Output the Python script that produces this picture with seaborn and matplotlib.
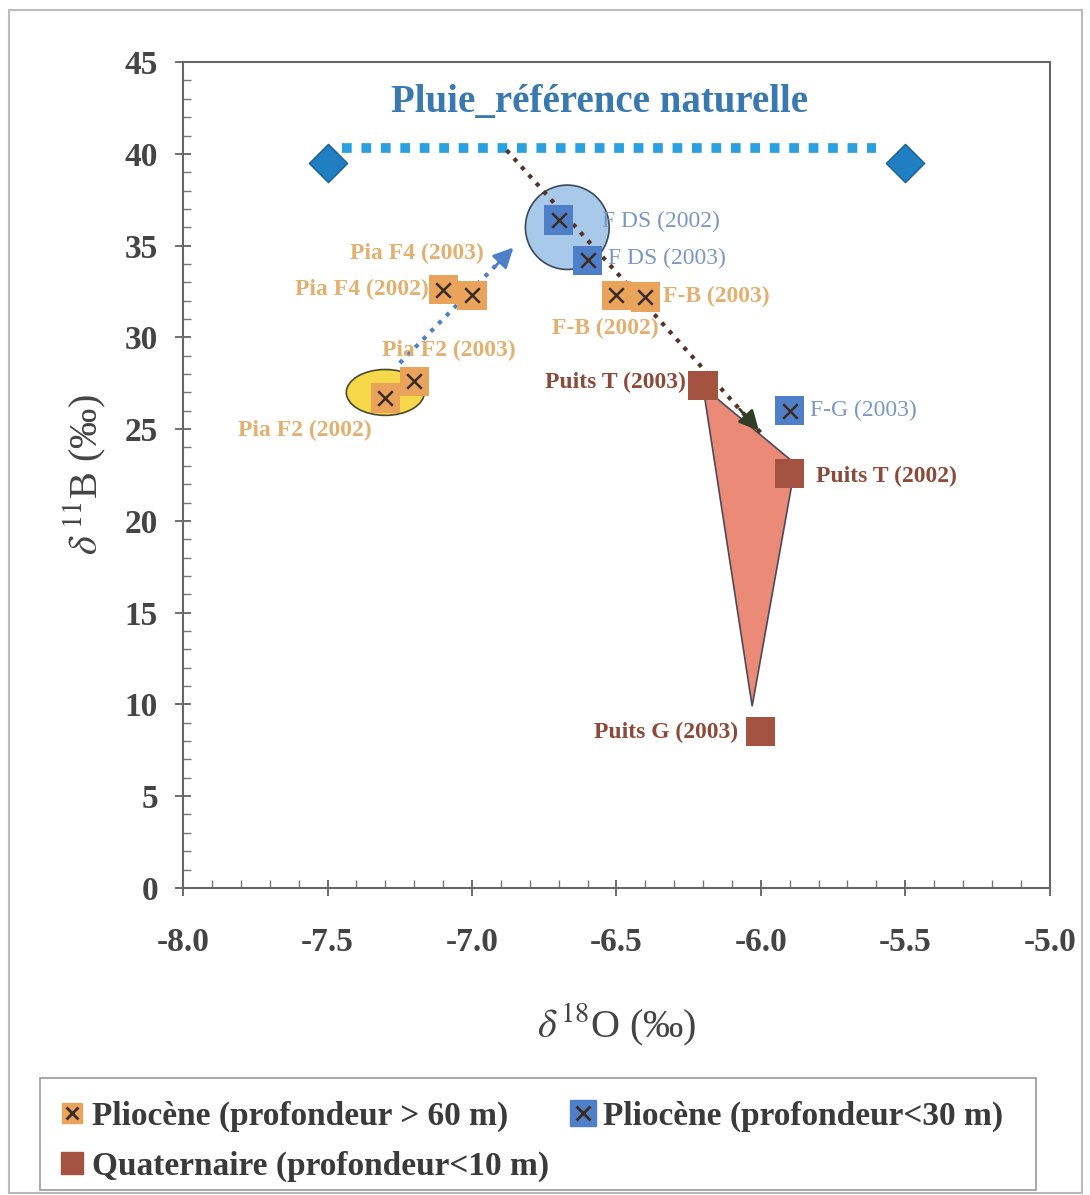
import numpy as np
import pandas as pd
import seaborn as sns
import matplotlib.pyplot as plt
from matplotlib.patches import Ellipse, Polygon, Rectangle
from matplotlib.lines import Line2D
from matplotlib.ticker import MultipleLocator

# --- data ---
names = ["Pia F4 (2002)", "Pia F4 (2003)", "Pia F2 (2003)", "Pia F2 (2002)",
         "F-B (2002)", "F-B (2003)",
         "F DS (2002)", "F DS (2003)", "F-G (2003)",
         "Puits T (2003)", "Puits T (2002)", "Puits G (2003)"]
d18O = [-7.1, -7.0, -7.2, -7.3, -6.5, -6.4, -6.7, -6.6, -5.9, -6.2, -5.9, -6.0]
d11B = [32.6, 32.3, 27.6, 26.7, 32.3, 32.2, 36.4, 34.2, 26.0, 27.4, 22.6, 8.5]
groups = ["deep"] * 6 + ["shallow"] * 3 + ["quat"] * 3

rain_x = [-7.5, -5.5]
rain_y = [39.5, 39.5]
rain_line_x = [-7.45, -5.6]
rain_line_y = [40.3, 40.3]

zone_quat = [(-6.2, 27.3), (-5.88, 23.1), (-6.03, 9.9)]
arrow_down = [(-6.88, 40.2), (-6.0, 24.8)]
arrow_up = [(-7.25, 28.6), (-6.85, 35.0)]

df = pd.DataFrame({"name": names, "x": d18O, "y": d11B, "group": groups})

palette = {"deep": "#e9a35a", "shallow": "#4f7fc9", "quat": "#a3533f"}
label_col = {"deep": "#e2b070", "shallow": "#7c97c4", "quat": "#8c4a3a"}

plt.rcParams["font.family"] = ["Liberation Serif", "DejaVu Serif"]
plt.rcParams["mathtext.fontset"] = "stix"

fig = plt.figure(figsize=(10.9, 11.95), dpi=100)
ax = fig.add_axes([0.168, 0.257, 0.795, 0.691])

# zones
ax.add_patch(Polygon(zone_quat, closed=True, facecolor="#ec8a78", edgecolor="#4a4a5a", lw=1.2, zorder=1))
ax.add_patch(Ellipse((-7.3, 27.0), 0.27, 2.5, facecolor="#f6d84a", edgecolor="#4a4a30", lw=1.2, zorder=1))
ax.add_patch(Ellipse((-6.67, 36.0), 0.29, 4.6, facecolor="#a9c9ea", edgecolor="#3a4a5a", lw=1.2, zorder=1))

# rain reference
ax.plot(rain_line_x, rain_line_y, ls=(0, (1, 1)), lw=7, color="#2aa0e0", zorder=2)
sns.scatterplot(x=rain_x, y=rain_y, marker="D", s=380, color="#1f7fc2", edgecolor="#1a5f90",
                linewidth=1, ax=ax, zorder=3, legend=False)

# dotted arrows
ax.plot(*zip(*arrow_down), ls=":", lw=3, color="#553328", zorder=2)
ax.annotate("", xy=arrow_down[1], xytext=(-6.08, 26.2),
            arrowprops=dict(arrowstyle="-|>,head_length=1.2,head_width=0.6", color="#2f3e25", lw=2),
            zorder=4)
ax.plot(*zip(*arrow_up), ls=":", lw=3, color="#4f7fc9", zorder=2)
ax.annotate("", xy=arrow_up[1], xytext=(-6.93, 33.7),
            arrowprops=dict(arrowstyle="-|>,head_length=1.2,head_width=0.6", color="#4f7fc9", lw=2),
            zorder=4)

# samples
sns.scatterplot(data=df, x="x", y="y", hue="group", palette=palette, marker="s", s=440,
                edgecolor="none", ax=ax, zorder=5, legend=False)
sx = df[df.group != "quat"]
sns.scatterplot(data=sx, x="x", y="y", marker="x", s=110, color="#3a2a20", linewidth=1.8,
                ax=ax, zorder=6, legend=False)

# labels
lab_pos = {
    "Pia F4 (2003)": (-7.19, 34.6, "center"),
    "Pia F4 (2002)": (-7.15, 32.6, "right"),
    "Pia F2 (2003)": (-7.08, 29.3, "center"),
    "Pia F2 (2002)": (-7.58, 24.95, "center"),
    "F-B (2002)": (-6.54, 30.5, "center"),
    "F-B (2003)": (-6.34, 32.25, "left"),
    "F DS (2002)": (-6.55, 36.3, "left"),
    "F DS (2003)": (-6.53, 34.3, "left"),
    "F-G (2003)": (-5.83, 26.0, "left"),
    "Puits T (2003)": (-6.26, 27.55, "right"),
    "Puits T (2002)": (-5.81, 22.4, "left"),
    "Puits G (2003)": (-6.08, 8.45, "right"),
}
for _, r in df.iterrows():
    lx, ly, ha = lab_pos[r["name"]]
    ax.text(lx, ly, r["name"], ha=ha, va="center", fontsize=17,
            fontweight="normal" if r.group == "shallow" else "bold",
            color=label_col[r.group], zorder=7)

ax.text(-6.557, 42.8, "Pluie_référence naturelle", ha="center", va="center",
        fontsize=28, fontweight="bold", color="#3a79b0")

# axes
ax.set_xlim(-8.0, -5.0)
ax.set_ylim(0, 45)
ax.set_xticks(np.arange(-8.0, -4.99, 0.5))
ax.set_yticks(np.arange(0, 46, 5))
ax.set_xticklabels([f"{v:.1f}" for v in np.arange(-8.0, -4.99, 0.5)])
ax.xaxis.set_minor_locator(MultipleLocator(0.1))
ax.yaxis.set_minor_locator(MultipleLocator(1))
ax.tick_params(which="major", direction="inout", length=12, width=1.2, color="#555555",
               labelsize=24)
ax.tick_params(axis="x", which="major", pad=22)
ax.tick_params(axis="y", which="major", pad=12)
ax.tick_params(which="minor", direction="in", length=6, width=1, color="#777777")
for lab in ax.get_xticklabels() + ax.get_yticklabels():
    lab.set_fontweight("bold")
    lab.set_color("#444444")
for sp in ax.spines.values():
    sp.set_color("#666666")
    sp.set_linewidth(1.5)
ax.set_xlabel(r"$\delta^{18}$O (‰)", fontsize=29, color="#444444", labelpad=32)
ax.set_ylabel(r"$\delta^{\,11}$B (‰)", fontsize=29, color="#444444", labelpad=12)

# legend
h_deep = (Line2D([], [], marker="s", ls="", ms=14, color=palette["deep"]),
          Line2D([], [], marker="x", ls="", ms=8, mew=2, color="#3a2a20"))
h_sh = (Line2D([], [], marker="s", ls="", ms=19, color=palette["shallow"]),
        Line2D([], [], marker="x", ls="", ms=10, mew=2, color="#3a2a20"))
h_q = Line2D([], [], marker="s", ls="", ms=16, color=palette["quat"])
leg = fig.legend([h_deep, h_q, h_sh],
                 ["Pliocène (profondeur > 60 m)", "Quaternaire (profondeur<10 m)",
                  "Pliocène (profondeur<30 m)"],
                 ncol=2, loc="upper left", bbox_to_anchor=(0.042, 0.090),
                 frameon=False, handlelength=0.8, handletextpad=0.2, columnspacing=0.6,
                 labelspacing=0.55, prop={"size": 24, "weight": "bold"}, borderaxespad=0)
for t in leg.get_texts():
    t.set_color("#3a3a3a")
fig.patches.append(Rectangle((0.037, 0.004), 0.913, 0.094, transform=fig.transFigure,
                             fill=False, edgecolor="#999999", lw=1.2))

fig.patches.append(Rectangle((0.008, 0.002), 0.985, 0.99, transform=fig.transFigure,
                             fill=False, edgecolor="#bbbbbb", lw=1.5))

fig.savefig("out.png", dpi=100)
